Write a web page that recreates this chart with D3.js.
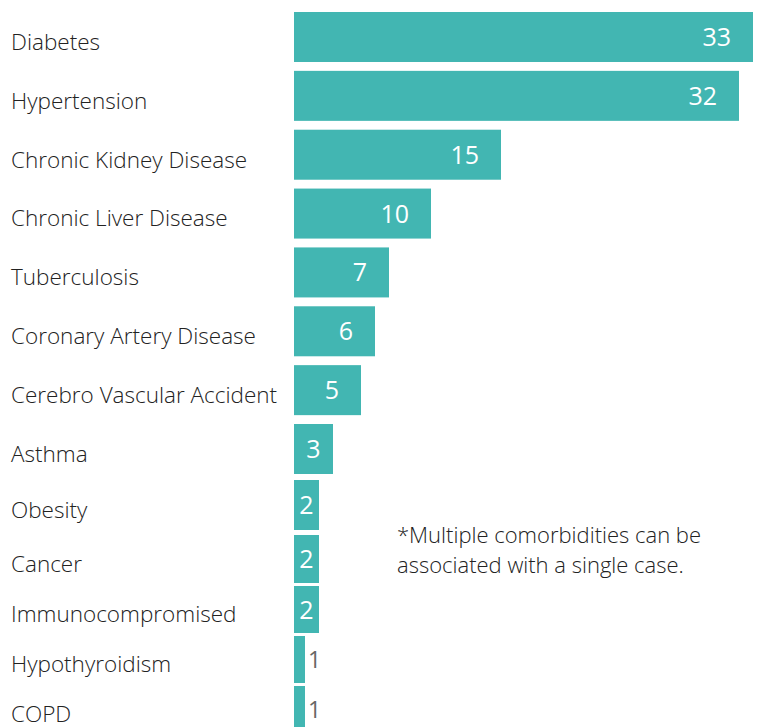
<!DOCTYPE html>
<html>
<head>
<meta charset="utf-8">
<script src="https://cdn.jsdelivr.net/npm/d3@7"></script>
<style>
  html, body { margin: 0; padding: 0; background: #fff; }
  svg { display: block; }
</style>
</head>
<body>
<div id="chart"></div>
<script>
const categories = ["Diabetes", "Hypertension", "Chronic Kidney Disease", "Chronic Liver Disease",
  "Tuberculosis", "Coronary Artery Disease", "Cerebro Vascular Accident", "Asthma",
  "Obesity", "Cancer", "Immunocompromised", "Hypothyroidism", "COPD"];
const values = [33, 32, 15, 10, 7, 6, 5, 3, 2, 2, 2, 1, 1];
const noteLines = ["*Multiple comorbidities can be", "associated with a single case."];

const W = 762, H = 727;
const FONT = "'Open Sans', 'DejaVu Sans', sans-serif";
const svg = d3.select("#chart").append("svg").attr("width", W).attr("height", H);

const x = d3.scaleLinear().domain([0, d3.max(values)]).range([291, 753]);
const barX0 = 294;
// row tops (rows are tighter at the bottom of the original)
const rowTop = d3.scaleLinear()
  .domain([0, 7, 8, 9, 10, 11, 12, 13])
  .range([12, 424, 480, 535, 586, 636, 686, 736]);
const barH = i => Math.min(50, rowTop(i + 1) - rowTop(i) - 3);

const rows = categories.map((c, i) => ({ c, v: values[i], i }));

const g = svg.append("g");

g.selectAll("rect.bar").data(rows).join("rect")
  .attr("class", "bar")
  .attr("x", barX0)
  .attr("y", d => rowTop(d.i))
  .attr("width", d => x(d.v) - barX0)
  .attr("height", d => barH(d.i))
  .attr("fill", "#42b6b2");

g.selectAll("text.cat").data(rows).join("text")
  .attr("class", "cat")
  .attr("x", 11)
  .attr("y", d => rowTop(d.i) + barH(d.i) / 2 + 5)
  .attr("dy", "0.35em")
  .attr("font-family", FONT)
  .attr("font-weight", 300)
  .attr("font-size", 22.5)
  .attr("fill", "#222222")
  .text(d => d.c);

const vl = g.selectAll("text.val").data(rows).join("text")
  .attr("class", "val")
  .attr("y", d => rowTop(d.i) + barH(d.i) / 2)
  .attr("dy", "0.36em")
  .attr("font-family", FONT)
  .attr("font-weight", 400)
  .attr("font-size", 25)
  .text(d => d.v);

vl.each(function(d) {
  const t = d3.select(this);
  const tw = this.getComputedTextLength();
  const w = x(d.v) - barX0;
  if (w - tw >= 8) {
    const pad = Math.min(22, (w - tw) / 2);
    t.attr("x", x(d.v) - pad).attr("text-anchor", "end").attr("fill", "#ffffff");
  } else {
    t.attr("x", x(d.v) + 3).attr("text-anchor", "start").attr("fill", "#666666")
     .attr("font-size", 23);
  }
});

svg.append("text")
  .attr("x", 397)
  .attr("y", 543)
  .attr("font-family", FONT)
  .attr("font-weight", 300)
  .attr("font-size", 22)
  .attr("fill", "#222222")
  .selectAll("tspan").data(noteLines).join("tspan")
  .attr("x", 397)
  .attr("dy", (d, i) => i === 0 ? 0 : 30)
  .text(d => d);
</script>
</body>
</html>
